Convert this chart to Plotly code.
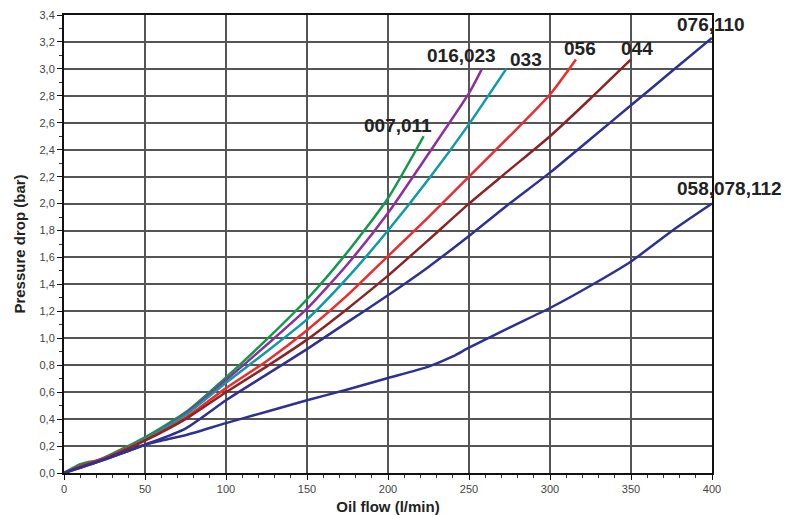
import plotly.graph_objects as go

# ---- data ----
x_007 = [0, 5, 10, 15, 20, 25, 50, 75, 100, 125, 150, 175, 200, 222]
y_007 = [0, 0.035, 0.065, 0.082, 0.092, 0.115, 0.265, 0.45, 0.71, 0.99, 1.29, 1.64, 2.04, 2.5]

x_016 = [0, 10, 20, 25, 50, 75, 100, 125, 150, 175, 200, 225, 250, 258]
y_016 = [0, 0.055, 0.09, 0.11, 0.25, 0.44, 0.69, 0.95, 1.22, 1.55, 1.93, 2.37, 2.82, 3.0]

x_033 = [0, 10, 20, 25, 50, 75, 100, 125, 150, 175, 200, 225, 250, 273]
y_033 = [0, 0.05, 0.09, 0.11, 0.25, 0.43, 0.67, 0.9, 1.14, 1.45, 1.8, 2.18, 2.59, 3.0]

x_056 = [0, 10, 20, 25, 50, 75, 100, 125, 150, 175, 200, 225, 250, 275, 300, 316]
y_056 = [0, 0.05, 0.09, 0.11, 0.245, 0.41, 0.63, 0.83, 1.06, 1.32, 1.61, 1.9, 2.2, 2.5, 2.81, 3.07]

x_044 = [0, 10, 20, 25, 50, 75, 100, 125, 150, 175, 200, 225, 250, 275, 300, 325, 350]
y_044 = [0, 0.045, 0.085, 0.105, 0.24, 0.40, 0.60, 0.79, 0.99, 1.22, 1.465, 1.73, 2.0, 2.25, 2.5, 2.78, 3.07]

x_076 = [0, 25, 50, 75, 100, 125, 150, 175, 200, 225, 250, 275, 300, 325, 350, 375, 400]
y_076 = [0, 0.1, 0.21, 0.33, 0.54, 0.73, 0.92, 1.12, 1.32, 1.53, 1.76, 2.0, 2.23, 2.48, 2.73, 2.98, 3.23]

x_058 = [0, 25, 50, 60, 75, 100, 125, 150, 175, 200, 225, 240, 250, 275, 300, 325, 350, 375, 400]
y_058 = [0, 0.1, 0.21, 0.24, 0.28, 0.37, 0.455, 0.54, 0.62, 0.705, 0.79, 0.865, 0.93, 1.08, 1.225, 1.39, 1.57, 1.795, 2.0]

series_names = ["007,011", "016,023", "033", "056", "044", "076,110", "058,078,112"]
x_ticks = [0, 50, 100, 150, 200, 250, 300, 350, 400]

# ---- styles: colour, label anchor, label offset in px from the curve end ----
series = [
    (x_007, y_007, "#109a4a", "center", (-26, 11)),
    (x_016, y_016, "#8e2f9e", "center", (-20, 13)),
    (x_033, y_033, "#0e9aa7", "center", (20, 9)),
    (x_056, y_056, "#ee2b2b", "center", (4, 11)),
    (x_044, y_044, "#8b2424", "center", (6, 11)),
    (x_076, y_076, "#2e3192", "left", (-37, 13)),
    (x_058, y_058, "#2e3192", "left", (-37, 15)),
]

font_family = "Liberation Sans, Arial, sans-serif"
fig = go.Figure()
annotations = []
for name, (xs, ys, color, anchor, shift) in zip(series_names, series):
    fig.add_trace(go.Scatter(
        x=xs, y=ys, mode="lines", name=name,
        line=dict(color=color, width=2.5, shape="spline", smoothing=0.6),
        showlegend=False, cliponaxis=False,
    ))
    annotations.append(dict(
        x=xs[-1], y=ys[-1], xref="x", yref="y", text="<b>" + name + "</b>",
        showarrow=False, xanchor=anchor, yanchor="middle",
        xshift=shift[0], yshift=shift[1],
        font=dict(family=font_family, size=19, color="#222222"),
    ))

fig.update_layout(
    width=785, height=515,
    margin=dict(l=64, r=73, t=15, b=42),
    paper_bgcolor="white", plot_bgcolor="white",
    separators=",.",
    annotations=annotations,
    font=dict(family=font_family, color="#333333"),
    xaxis=dict(
        range=[0, 400], tickvals=x_ticks, ticktext=[str(v) for v in x_ticks],
        showgrid=True, gridcolor="#555555", gridwidth=1.5,
        showline=True, linecolor="#111111", linewidth=2, mirror=True,
        ticks="outside", ticklen=5, tickcolor="#111111", tickwidth=1,
        tickfont=dict(size=11, color="#444444"),
        minor=dict(dtick=10, ticks="outside", ticklen=3, tickcolor="#333333", showgrid=False),
        zeroline=False, automargin=False,
        title=dict(text="<b>Oil flow (l/min)</b>", font=dict(size=15, color="#222222"), standoff=9),
    ),
    yaxis=dict(
        range=[0, 3.4], dtick=0.2, tick0=0, tickformat=".1f",
        showgrid=True, gridcolor="#555555", gridwidth=1.5,
        showline=True, linecolor="#111111", linewidth=2, mirror=True,
        ticks="outside", ticklen=5, tickcolor="#111111", tickwidth=1,
        tickfont=dict(size=11, color="#444444"),
        minor=dict(dtick=0.1, ticks="outside", ticklen=3, tickcolor="#333333", showgrid=False),
        zeroline=False, automargin=False,
        title=dict(text="<b>Pressure drop (bar)</b>", font=dict(size=15, color="#222222"), standoff=10),
    ),
)

fig.write_html(
    "out.html",
    config={"displayModeBar": False},
    post_script="document.body.style.margin='0';",
)
